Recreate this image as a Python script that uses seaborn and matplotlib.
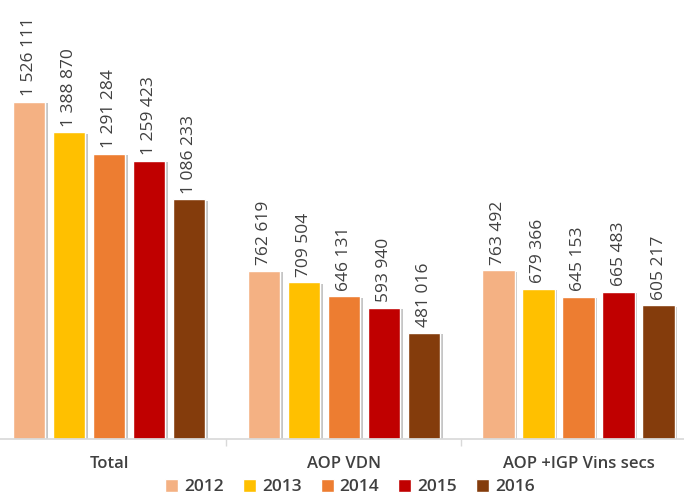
import matplotlib
matplotlib.use("Agg")
import matplotlib.pyplot as plt
import matplotlib.patheffects as pe
import seaborn as sns
import pandas as pd

categories = ["Total", "AOP VDN", "AOP +IGP Vins secs"]
years = ["2012", "2013", "2014", "2015", "2016"]
v2012 = [1526111, 762619, 763492]
v2013 = [1388870, 709504, 679366]
v2014 = [1291284, 646131, 645153]
v2015 = [1259423, 593940, 665483]
v2016 = [1086233, 481016, 605217]
colors = ["#F4B183", "#FFC000", "#ED7D31", "#C00000", "#843C0C"]

rows = []
for y, vals in zip(years, [v2012, v2013, v2014, v2015, v2016]):
    for c, v in zip(categories, vals):
        rows.append({"cat": c, "year": y, "value": v})
df = pd.DataFrame(rows)

sns.set_theme(style="white")
plt.rcParams['font.family'] = ['Open Sans', 'DejaVu Sans']

fig = plt.figure(figsize=(6.84, 4.98), dpi=100)
ax = fig.add_axes([0.0, 59/498, 1.0, 435/498])

sns.barplot(data=df, x="cat", y="value", hue="year", palette=colors,
            width=0.852, gap=0.19, ax=ax, legend=True, saturation=1)

for p in ax.patches:
    p.set_path_effects([pe.SimplePatchShadow(offset=(2, -1), shadow_rgbFace="#7f7f7f", alpha=0.45), pe.Normal()])

for cont in ax.containers:
    ax.bar_label(cont, labels=[f"{int(v):,}".replace(",", " ") for v in cont.datavalues],
                 rotation=90, padding=4, fontsize=12.5, color="#404040")

PITCH = 234.75
ax.set_xlim(-109/PITCH, (684-109)/PITCH)
ax.set_ylim(0, 1.97e6)
ax.set_yticks([])
ax.set_xlabel("")
ax.set_ylabel("")
for s in ["top", "left", "right"]:
    ax.spines[s].set_visible(False)
ax.spines["bottom"].set_color("#d9d9d9")
ax.set_xticks([0.5, 1.5], minor=True)
ax.tick_params(axis="x", which="minor", length=5, color="#d9d9d9", bottom=True)
ax.tick_params(axis="x", which="major", length=0, pad=12, labelsize=12, labelcolor="#404040")
for t in ax.get_xticklabels():
    t.set_fontweight("semibold")

leg = ax.legend(loc="center", bbox_to_anchor=(350/684, -48/435), ncol=5, frameon=False,
                handlelength=0.75, handleheight=0.75, handletextpad=0.35, columnspacing=1.1,
                fontsize=12.5, borderaxespad=0, borderpad=0)
for h in leg.legend_handles:
    h.set_path_effects([])
for t in leg.get_texts():
    t.set_color("#404040")
    t.set_fontweight("semibold")

fig.savefig("out.png", dpi=100)
